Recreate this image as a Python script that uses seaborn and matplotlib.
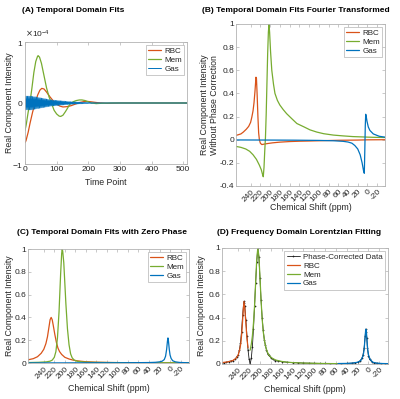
#!/usr/bin/env python3

import numpy as np
import matplotlib
matplotlib.use("Agg")
import matplotlib.pyplot as plt
import seaborn as sns

COLOUR_RBC = "#D95319"
COLOUR_MEM = "#77AC30"
COLOUR_GAS = "#0072BD"
COLOUR_DATA = "#1a1a1a"

PPM_TICKS = [240, 220, 200, 180, 160, 140, 120, 100, 80, 60, 40, 20, 0, -20]
PPM_LIM = (270, -36)

# (A) temporal fits, amplitudes in units of 1e-4
rbc_t = [0, 3, 10, 16, 24, 32, 40, 47, 53, 60, 68, 79, 90, 100, 110, 120,
         132, 145, 158, 174, 188, 200, 215, 230, 260, 300, 512]
rbc_a = [-0.65, -0.62, -0.48, -0.33, -0.15, 0.0, 0.13, 0.21, 0.24, 0.23, 0.18,
         0.10, 0.03, -0.02, -0.05, -0.065, -0.06, -0.045, -0.02, 0.01, 0.025,
         0.025, 0.015, 0.005, -0.005, 0.0, 0.0]
mem_t = [0, 4, 10, 16, 22, 28, 34, 40, 42, 46, 52, 60, 68, 76, 84, 92, 100,
         108, 113, 120, 128, 135, 142, 152, 162, 172, 180, 190, 200, 210, 225,
         240, 270, 512]
mem_a = [-0.45, -0.35, -0.15, 0.02, 0.25, 0.5, 0.68, 0.77, 0.775, 0.75, 0.65,
         0.45, 0.25, 0.1, -0.01, -0.12, -0.18, -0.215, -0.22, -0.2, -0.14,
         -0.08, -0.02, 0.02, 0.04, 0.05, 0.05, 0.04, 0.02, 0.0, -0.01, -0.005,
         0.0, 0.0]
gas_t = list(range(0, 242, 2)) + [512]
gas_a = [
    0.11, -0.11, 0.11, -0.11, 0.11, -0.11, 0.11, -0.11, 0.11, -0.11,
    0.11, -0.11, 0.105, -0.105, 0.10, -0.10, 0.10, -0.095, 0.095, -0.09,
    0.09, -0.088, 0.086, -0.084, 0.082, -0.08, 0.078, -0.076, 0.074, -0.072,
    0.07, -0.068, 0.066, -0.064, 0.062, -0.06, 0.058, -0.056, 0.054, -0.052,
    0.05, -0.049, 0.048, -0.047, 0.046, -0.045, 0.044, -0.043, 0.042, -0.041,
    0.04, -0.039, 0.038, -0.037, 0.036, -0.035, 0.034, -0.033, 0.032, -0.031,
    0.03, -0.029, 0.028, -0.027, 0.026, -0.025, 0.024, -0.023, 0.022, -0.021,
    0.02, -0.02, 0.019, -0.019, 0.018, -0.018, 0.017, -0.017, 0.016, -0.016,
    0.015, -0.015, 0.014, -0.014, 0.013, -0.013, 0.012, -0.012, 0.011, -0.011,
    0.01, -0.01, 0.009, -0.009, 0.008, -0.008, 0.008, -0.007, 0.007, -0.007,
    0.006, -0.006, 0.006, -0.005, 0.005, -0.005, 0.004, -0.004, 0.004, -0.004,
    0.003, -0.003, 0.003, -0.003, 0.003, -0.002, 0.002, -0.002, 0.002, -0.002,
    0.0, 0.0,
]

# (B) Fourier transformed, no phase correction
rbc_b_ppm = [270, 260, 255, 249, 244, 240, 237.5, 235, 233, 231, 229, 228,
             226.5, 225, 223.5, 222, 220, 217, 212, 205, 195, 180, 160, 140,
             118, 100, 80, 60, 40, 20, 0, -36]
rbc_b_val = [0.037, 0.05, 0.066, 0.09, 0.115, 0.15, 0.195, 0.25, 0.32, 0.42,
             0.54, 0.53, 0.38, 0.2, 0.06, 0.0, -0.03, -0.042, -0.038, -0.033,
             -0.027, -0.021, -0.016, -0.013, -0.011, -0.009, -0.007, -0.005,
             -0.004, -0.003, -0.001, 0.0]
mem_b_ppm = [270, 260, 250, 242, 235, 228, 222, 218, 215.5, 214, 212.5, 211,
             209.5, 208, 206.5, 205, 203.5, 202.2, 201, 199, 196.5, 193, 190,
             185, 180, 173, 166, 155, 145, 130, 118, 104, 90, 70, 50, 30, 10,
             -10, -36]
mem_b_val = [-0.058, -0.066, -0.08, -0.1, -0.13, -0.17, -0.22, -0.26, -0.3,
             -0.32, -0.24, -0.1, 0.02, 0.22, 0.48, 0.74, 0.93, 1.0, 0.93, 0.76,
             0.6, 0.48, 0.4, 0.34, 0.3, 0.26, 0.225, 0.18, 0.14, 0.11, 0.085,
             0.066, 0.052, 0.04, 0.033, 0.027, 0.024, 0.021, 0.019]
gas_b_ppm = [270, 200, 150, 100, 70, 50, 40, 32, 26, 20, 15, 11, 8, 6.5, 5.5,
             4.5, 3.6, 2.5, 1, -1.7, -5, -12, -24, -36]
gas_b_val = [-0.002, -0.003, -0.004, -0.006, -0.009, -0.014, -0.02, -0.03,
             -0.05, -0.08, -0.13, -0.2, -0.27, -0.29, -0.1, 0.12, 0.22, 0.2,
             0.16, 0.11, 0.08, 0.05, 0.03, 0.022]

# (C) temporal fits with zero phase
rbc_c_ppm = [270, 260, 252, 245, 240, 236, 233, 230, 228, 226, 224, 222, 219,
             216, 213, 210, 206, 200, 192, 184, 175, 160, 140, 110, 70, 20, -36]
rbc_c_val = [0.028, 0.038, 0.055, 0.085, 0.12, 0.17, 0.23, 0.32, 0.38, 0.40,
             0.38, 0.33, 0.25, 0.18, 0.13, 0.10, 0.075, 0.05, 0.035, 0.025,
             0.018, 0.011, 0.007, 0.004, 0.002, 0.001, 0.0]
mem_c_ppm = [270, 250, 235, 228, 224, 220, 217, 214, 211, 208, 206, 205, 204,
             202, 200, 198, 195, 192, 189, 186, 182, 176, 165, 150, 120, 80,
             30, -36]
mem_c_val = [0.004, 0.006, 0.01, 0.016, 0.025, 0.05, 0.10, 0.22, 0.45, 0.78,
             0.96, 1.0, 0.98, 0.88, 0.70, 0.52, 0.3, 0.16, 0.08, 0.045, 0.025,
             0.015, 0.009, 0.006, 0.004, 0.003, 0.002, 0.002]
gas_c_ppm = [270, 200, 150, 100, 60, 40, 28, 20, 15, 11, 8.5, 6.5, 5, 4, 3,
             1.5, 0, -2, -5, -10, -18, -28, -36]
gas_c_val = [0.001, 0.001, 0.002, 0.002, 0.003, 0.004, 0.006, 0.01, 0.016,
             0.03, 0.06, 0.12, 0.19, 0.22, 0.19, 0.12, 0.07, 0.04, 0.02, 0.01,
             0.005, 0.003, 0.002]

# (D) frequency domain Lorentzian fitting
data_d_ppm = [270, 266, 262, 258, 254, 250, 246, 243, 240, 238, 236, 234, 232,
              230, 229, 228, 226, 224, 222, 220, 218, 216, 214, 212, 210, 208,
              206, 204, 202, 200, 198, 196, 194, 192, 190, 188, 186, 184, 180,
              176, 172, 166, 160, 150, 140, 130, 120, 110, 100, 90, 80, 70, 60,
              50, 40, 30, 24, 20, 16, 12, 10, 8, 6, 5, 4, 3, 2, 0, -2, -6, -10,
              -16, -24, -30, -36]
data_d_val = [0.01, 0.012, 0.015, 0.02, 0.025, 0.03, 0.04, 0.06, 0.08, 0.12,
              0.18, 0.28, 0.42, 0.53, 0.54, 0.50, 0.38, 0.24, 0.12, 0.04, 0.0,
              0.05, 0.15, 0.30, 0.50, 0.70, 0.88, 1.0, 0.92, 0.74, 0.55, 0.40,
              0.29, 0.21, 0.16, 0.12, 0.09, 0.075, 0.055, 0.04, 0.03, 0.025,
              0.02, 0.015, 0.012, 0.01, 0.008, 0.007, 0.006, 0.005, 0.005,
              0.004, 0.004, 0.004, 0.005, 0.007, 0.01, 0.015, 0.025, 0.05,
              0.08, 0.14, 0.24, 0.30, 0.28, 0.22, 0.14, 0.07, 0.04, 0.02, 0.01,
              0.006, 0.004, 0.003, 0.003]
rbc_d_ppm = [270, 260, 250, 244, 240, 237, 235, 233, 231, 229.5, 228, 226, 224,
             222]
rbc_d_val = [0.012, 0.018, 0.03, 0.05, 0.08, 0.13, 0.19, 0.30, 0.45, 0.54,
             0.48, 0.35, 0.22, 0.14]
mem_d_ppm = [218, 216, 214, 212, 210, 208, 206, 204, 202, 200, 198, 196, 194,
             192, 190, 188, 186, 184, 180, 176, 170, 160, 150, 140, 120, 100,
             80, 56]
mem_d_val = [0.12, 0.17, 0.24, 0.35, 0.50, 0.70, 0.90, 1.0, 0.93, 0.75, 0.55,
             0.39, 0.28, 0.21, 0.16, 0.125, 0.10, 0.08, 0.06, 0.045, 0.033,
             0.022, 0.016, 0.012, 0.008, 0.006, 0.004, 0.003]
gas_d_ppm = [56, 40, 30, 20, 14, 10, 8, 6.5, 5, 4, 3, 1.5, 0, -3, -8, -16, -26,
             -36]
gas_d_val = [0.004, 0.005, 0.008, 0.015, 0.03, 0.07, 0.12, 0.22, 0.30, 0.29,
             0.22, 0.13, 0.08, 0.04, 0.015, 0.007, 0.004, 0.003]

sns.set_theme(style="white")
plt.rcParams["font.family"] = ["Liberation Sans", "DejaVu Sans"]
plt.rcParams["axes.unicode_minus"] = False

W, H = 400, 399
fig = plt.figure(figsize=(W / 100, H / 100), dpi=100)


def px_axes(left, top, right, bottom):
    return fig.add_axes([left / W, 1 - bottom / H, (right - left) / W,
                         (bottom - top) / H])


def style(ax):
    for s in ax.spines.values():
        s.set_color("#b3b3b3")
        s.set_linewidth(0.6)
        s.set_visible(True)
    ax.tick_params(direction="in", length=2.5, width=0.5, colors="#b3b3b3",
                   labelcolor="#262626", labelsize=6, top=True, right=True,
                   bottom=True, left=True, pad=1.5)
    ax.set_facecolor("white")


def legend(ax, **kw):
    ax.legend(loc="upper right", fontsize=5.8, frameon=True, fancybox=False,
              edgecolor="#b3b3b3", framealpha=1, borderpad=0.3,
              labelspacing=0.15, handlelength=1.6, handletextpad=0.4,
              borderaxespad=0.35, **kw).get_frame().set_linewidth(0.5)


def line(ax, x, y, colour, label, lw=0.9, **kw):
    sns.lineplot(x=x, y=y, ax=ax, color=colour, label=label, lw=lw,
                 estimator=None, **kw)


def ppm_axis(ax):
    ax.set_xlim(*PPM_LIM)
    ax.set_xticks(PPM_TICKS)
    ax.set_xticklabels([str(v) for v in PPM_TICKS], rotation=45, ha="right",
                       rotation_mode="anchor")
    ax.set_xlabel("Chemical Shift (ppm)", fontsize=6.3, color="#262626",
                  va="center")


lab = dict(fontsize=6.3, color="#262626", va="center")

# (A)
axA = px_axes(25, 42, 187, 164)
line(axA, rbc_t, np.array(rbc_a) * 1e-4, COLOUR_RBC, "RBC")
line(axA, mem_t, np.array(mem_a) * 1e-4, COLOUR_MEM, "Mem")
line(axA, gas_t, np.array(gas_a) * 1e-4, COLOUR_GAS, "Gas", lw=0.7)
style(axA)
axA.set_xlim(0, 512)
axA.set_ylim(-1e-4, 1e-4)
axA.set_xticks([0, 100, 200, 300, 400, 500])
axA.set_yticks([-1e-4, 0, 1e-4])
axA.ticklabel_format(axis="y", style="sci", scilimits=(0, 0),
                     useMathText=True)
axA.yaxis.get_offset_text().set_fontsize(6)
axA.yaxis.get_offset_text().set_color("#262626")
axA.set_xlabel("Time Point", **lab)
axA.set_ylabel("Real Component Intensity", **lab)
axA.xaxis.set_label_coords(0.5, -0.15)
axA.yaxis.set_label_coords(-0.093, 0.5)
legend(axA)

# (B)
axB = px_axes(236, 24, 385, 186)
line(axB, rbc_b_ppm, rbc_b_val, COLOUR_RBC, "RBC")
line(axB, mem_b_ppm, mem_b_val, COLOUR_MEM, "Mem")
line(axB, gas_b_ppm, gas_b_val, COLOUR_GAS, "Gas")
style(axB)
ppm_axis(axB)
axB.set_ylim(-0.4, 1)
axB.set_yticks([-0.4, -0.2, 0, 0.2, 0.4, 0.6, 0.8, 1])
axB.set_yticklabels(["-0.4", "-0.2", "0", "0.2", "0.4", "0.6", "0.8", "1"])
axB.set_ylabel("Real Component Intensity\nWithout Phase Correction",
               linespacing=1.1, **lab)
axB.xaxis.set_label_coords(0.5, -0.13)
axB.yaxis.set_label_coords(-0.18, 0.5)
legend(axB)

ytk = [0, 0.2, 0.4, 0.6, 0.8, 1]
ytl = ["0", "0.2", "0.4", "0.6", "0.8", "1"]

# (C)
axC = px_axes(28, 249, 189, 363)
line(axC, rbc_c_ppm, rbc_c_val, COLOUR_RBC, "RBC")
line(axC, mem_c_ppm, mem_c_val, COLOUR_MEM, "Mem")
line(axC, gas_c_ppm, gas_c_val, COLOUR_GAS, "Gas")
style(axC)
ppm_axis(axC)
axC.set_ylim(0, 1)
axC.set_yticks(ytk)
axC.set_yticklabels(ytl)
axC.set_ylabel("Real Component Intensity", **lab)
axC.xaxis.set_label_coords(0.5, -0.22)
axC.yaxis.set_label_coords(-0.115, 0.5)
legend(axC)

# (D)
axD = px_axes(222, 248, 388, 364)
line(axD, data_d_ppm, data_d_val, COLOUR_DATA, "Phase-Corrected Data", lw=0.6,
     marker=".", markersize=2.5, markeredgewidth=0)
line(axD, rbc_d_ppm, rbc_d_val, COLOUR_RBC, "RBC")
line(axD, mem_d_ppm, mem_d_val, COLOUR_MEM, "Mem")
line(axD, gas_d_ppm, gas_d_val, COLOUR_GAS, "Gas")
style(axD)
ppm_axis(axD)
axD.set_ylim(0, 1)
axD.set_yticks(ytk)
axD.set_yticklabels(ytl)
axD.set_ylabel("Real Component Intensity", **lab)
axD.xaxis.set_label_coords(0.5, -0.224)
axD.yaxis.set_label_coords(-0.125, 0.5)
legend(axD)

# panel titles
titles = [
    (22, 10, "(A) Temporal Domain Fits"),
    (202, 10, "(B) Temporal Domain Fits Fourier Transformed"),
    (17, 232, "(C) Temporal Domain Fits with Zero Phase"),
    (217, 232, "(D) Frequency Domain Lorentzian Fitting"),
]
for x, y, t in titles:
    fig.text(x / W, 1 - y / H, t, fontsize=6, fontweight="bold",
             ha="left", va="center", color="black")

fig.savefig("out.png", dpi=100)
